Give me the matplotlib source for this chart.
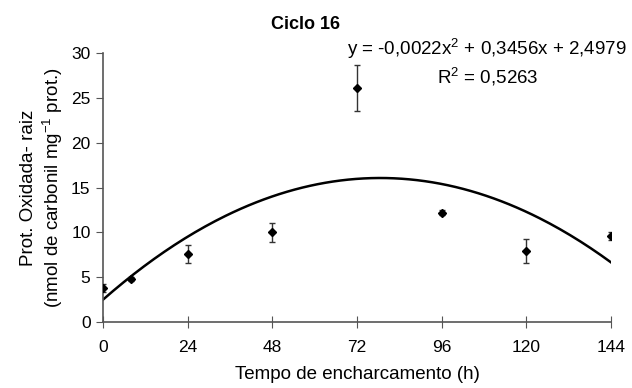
import numpy as np
import matplotlib
matplotlib.use("Agg")
import matplotlib.pyplot as plt

plt.rcParams['font.family'] = ['Liberation Sans', 'DejaVu Sans']
plt.rcParams['mathtext.fontset'] = 'custom'
plt.rcParams['mathtext.rm'] = 'Liberation Sans'

# Tempo de encharcamento (h) e proteína oxidada na raiz
tempo = [0, 8, 24, 48, 72, 96, 120, 144]
prot_ox = [3.8, 4.8, 7.6, 10.0, 26.1, 12.2, 7.95, 9.6]
erro = [0.4, 0.2, 1.0, 1.1, 2.6, 0.3, 1.35, 0.5]

# Coeficientes do ajuste polinomial de 2º grau
coef = [-0.0022, 0.3456, 2.4979]
r2 = 0.5263

x_ticks = [0, 24, 48, 72, 96, 120, 144]
y_ticks = [0, 5, 10, 15, 20, 25, 30]

fig = plt.figure(figsize=(6.32, 3.88), dpi=100)
ax = fig.add_axes([0.163, 0.170, 0.804, 0.693])

xs = np.linspace(0, 144, 200)
ax.plot(xs, np.polyval(coef, xs), color='black', lw=1.8, zorder=2)
ax.errorbar(tempo, prot_ox, yerr=erro, fmt='D', color='black', ms=4,
            ecolor='#333333', elinewidth=1, capsize=2.5, capthick=1, zorder=3)

ax.set_xlim(0, 144)
ax.set_ylim(0, 30)
ax.set_xticks(x_ticks)
ax.set_yticks(y_ticks)
for s in ['top', 'right']:
    ax.spines[s].set_visible(False)
for s in ['left', 'bottom']:
    ax.spines[s].set_color('#555555')
    ax.spines[s].set_linewidth(1.2)
ax.tick_params(axis='x', direction='inout', length=8, labelsize=12.5, pad=9, color='#555555')
ax.tick_params(axis='y', direction='out', length=5, labelsize=12.5, pad=4, color='#555555')

ax.set_xlabel('Tempo de encharcamento (h)', fontsize=13.5, labelpad=8)
ax.set_ylabel('Prot. Oxidada- raiz\n(nmol de carbonil mg$^{\\mathregular{-1}}$ prot.)',
              fontsize=13.5, labelpad=4, linespacing=1.2)

fig.text(0.483, 0.938, 'Ciclo 16', ha='center', va='center', fontsize=13, fontweight='bold')
fig.text(0.771, 0.876, 'y = -0,0022x$^{\\mathregular{2}}$ + 0,3456x + 2,4979',
         ha='center', va='center', fontsize=13.5)
fig.text(0.772, 0.803, 'R$^{\\mathregular{2}}$ = 0,5263', ha='center', va='center', fontsize=13.5)

fig.savefig('out.png', dpi=100)
